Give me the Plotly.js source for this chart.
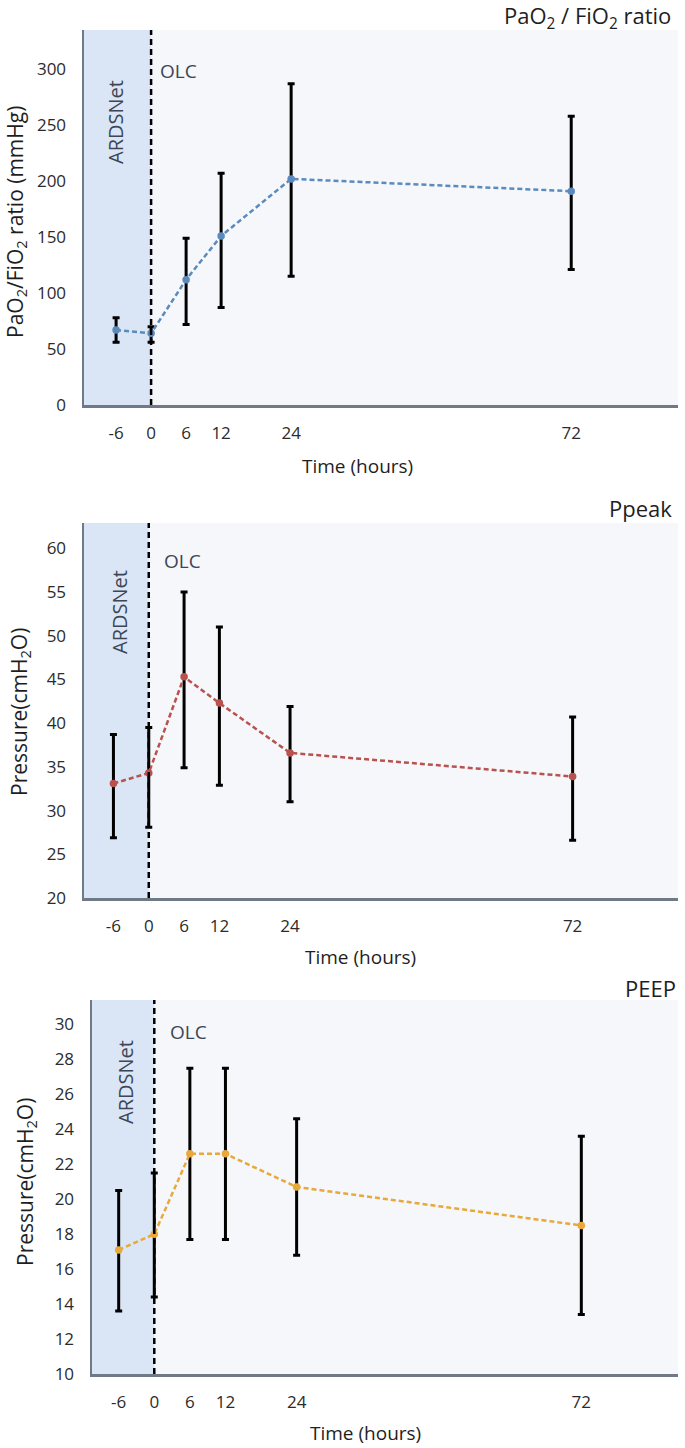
<!DOCTYPE html>
<html>
<head>
<meta charset="utf-8">
<script src="https://cdn.plot.ly/plotly-3.0.1.min.js"></script>
<style>html,body{margin:0;padding:0;background:#fff;}#chart{width:685px;height:1448px;}</style>
</head>
<body>
<div id="chart"></div>
<script>
// ---- data ----
const hours = [-6, 0, 6, 12, 24, 72];
const hourTicks = ["-6", "0", "6", "12", "24", "72"];

const pfMean  = [67, 64, 112, 151, 202, 191];
const pfUpper = [78, 70, 149, 207, 287, 258];
const pfLower = [56, 56, 72, 87, 115, 121];

const ppMean  = [33.1, 34.3, 45.3, 42.3, 36.6, 33.9];
const ppUpper = [38.7, 39.5, 55.0, 51.0, 41.9, 40.7];
const ppLower = [26.9, 28.1, 34.9, 32.9, 31.0, 26.6];

const peMean  = [17.1, 18.0, 22.6, 22.6, 20.7, 18.5];
const peUpper = [20.5, 21.5, 27.5, 27.5, 24.6, 23.6];
const peLower = [13.6, 14.4, 17.7, 17.7, 16.8, 13.4];

const panelTitles = ["PaO<sub>2</sub> / FiO<sub>2</sub> ratio", "Ppeak", "PEEP"];
const yTitles = ["PaO<sub>2</sub>/FiO<sub>2</sub> ratio (mmHg)", "Pressure(cmH<sub>2</sub>O)", "Pressure(cmH<sub>2</sub>O)"];
const xTitle = "Time (hours)";
const phaseLabels = ["ARDSNet", "OLC"];

// ---- layout helpers ----
const W = 685, H = 1448;
const px = v => v / W;
const py = v => 1 - v / H;

const FAM = "Open Sans, sans-serif";
const tickFont = {family: FAM, size: 17, color: "#2b2b2b"};
const titleFont = {family: FAM, size: 21, color: "#1e1e1e"};
const ardsFont = {family: FAM, size: 20, color: "#3c4656"};
const olcFont = {family: FAM, size: 19, color: "#3c4656"};

function errTrace(mean, up, lo, color, xa, ya) {
  return {
    type: "scatter", mode: "lines+markers", x: hours, y: mean,
    xaxis: xa, yaxis: ya,
    line: {color: color, width: 2.5, dash: "5px,3px"},
    marker: {color: color, size: 7.5},
    error_y: {type: "data", symmetric: false,
      array: up.map((u, i) => u - mean[i]),
      arrayminus: lo.map((l, i) => mean[i] - l),
      color: "#000", thickness: 3, width: 3.5},
    showlegend: false, hoverinfo: "skip"
  };
}

const data = [
  errTrace(pfMean, pfUpper, pfLower, "#5b8bbd", "x", "y"),
  errTrace(ppMean, ppUpper, ppLower, "#b9524e", "x2", "y2"),
  errTrace(peMean, peUpper, peLower, "#e8a83a", "x3", "y3")
];

const panels = [
  {top: 30, bottom: 405, left: 84, xr: [-11.5, 90.3], yr: [0, 335], dtick: 50, y0: 0, ytmax: 300,
   titleXY: [673, 17], yTitleXY: [16, 222], xTitleXY: [357, 466], ards: [116, 122], olc: [178, 71]},
  {top: 523, bottom: 898, left: 84, xr: [-11.0, 89.9], yr: [20, 62.9], dtick: 5, y0: 20, ytmax: 60,
   titleXY: [674, 508], yTitleXY: [20, 712], xTitleXY: [361, 957], ards: [119, 612], olc: [182, 561]},
  {top: 1000, bottom: 1374, left: 92, xr: [-10.5, 88.3], yr: [10, 31.4], dtick: 2, y0: 10, ytmax: 30,
   titleXY: [678, 988], yTitleXY: [26, 1182], xTitleXY: [366, 1433], ards: [125, 1082], olc: [188, 1032]}
];

const layout = {
  width: W, height: H,
  margin: {l: 0, r: 0, t: 0, b: 0},
  paper_bgcolor: "#ffffff",
  plot_bgcolor: "#f5f7fa",
  showlegend: false,
  shapes: [], annotations: []
};

panels.forEach((p, i) => {
  const sfx = i === 0 ? "" : String(i + 1);
  const yt = [];
  for (let v = p.y0; v <= p.ytmax; v += p.dtick) yt.push(v);
  layout["xaxis" + sfx] = {
    domain: [px(p.left), px(678)], anchor: "y" + sfx, range: p.xr,
    tickmode: "array", tickvals: hours, ticktext: hourTicks,
    ticks: "outside", ticklen: 11, tickcolor: "rgba(0,0,0,0)",
    tickfont: tickFont, showgrid: false, zeroline: false,
    showline: true, linecolor: "#6f7a86", linewidth: 2.5, fixedrange: true
  };
  layout["yaxis" + sfx] = {
    domain: [py(p.bottom), py(p.top)], anchor: "x" + sfx, range: p.yr,
    tickmode: "array", tickvals: yt, ticktext: yt.map(String),
    ticks: "outside", ticklen: 12, tickcolor: "rgba(0,0,0,0)",
    tickfont: tickFont, showgrid: false, zeroline: false,
    showline: true, linecolor: "#6f7a86", linewidth: 2.5, fixedrange: true
  };
  // shaded ARDSNet phase
  layout.shapes.push({type: "rect", xref: "x" + sfx, yref: "y" + sfx + " domain",
    x0: p.xr[0], x1: 0, y0: 0, y1: 1, fillcolor: "#dae6f5", line: {width: 0}, layer: "below"});
  // dashed line at 0
  layout.shapes.push({type: "line", xref: "x" + sfx, yref: "y" + sfx + " domain",
    x0: 0, x1: 0, y0: 0, y1: 1, line: {color: "#000", width: 2.5, dash: "6px,4px"}, layer: "above"});

  layout.annotations.push(
    {text: panelTitles[i], xref: "paper", yref: "paper", x: px(p.titleXY[0]), y: py(p.titleXY[1]),
     xanchor: "right", yanchor: "middle", showarrow: false,
     font: {family: FAM, size: 22, color: "#1e1e1e"}},
    {text: yTitles[i], xref: "paper", yref: "paper", x: px(p.yTitleXY[0]), y: py(p.yTitleXY[1]),
     xanchor: "center", yanchor: "middle", textangle: -90, showarrow: false, font: titleFont},
    {text: xTitle, xref: "paper", yref: "paper", x: px(p.xTitleXY[0]), y: py(p.xTitleXY[1]),
     xanchor: "center", yanchor: "middle", showarrow: false,
     font: {family: FAM, size: 19, color: "#1e1e1e"}},
    {text: phaseLabels[0], xref: "paper", yref: "paper", x: px(p.ards[0]), y: py(p.ards[1]),
     xanchor: "center", yanchor: "middle", textangle: -90, showarrow: false, font: ardsFont},
    {text: phaseLabels[1], xref: "paper", yref: "paper", x: px(p.olc[0]), y: py(p.olc[1]),
     xanchor: "center", yanchor: "middle", showarrow: false, font: olcFont}
  );
});

Plotly.newPlot("chart", data, layout, {staticPlot: true, displayModeBar: false});
</script>
</body>
</html>
